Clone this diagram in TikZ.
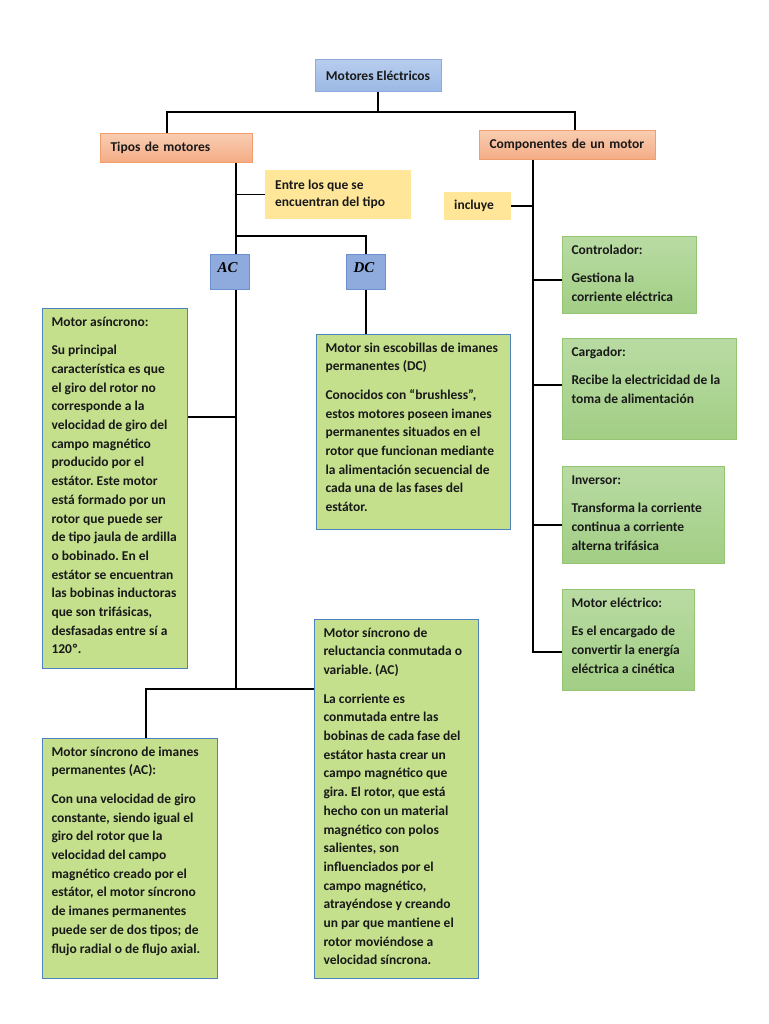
\documentclass[tikz,border=0pt]{standalone}
\usepackage{fontspec}
\setmainfont{Carlito}
\newfontfamily\romana{Liberation Serif}
\usepackage{xcolor}
\frenchspacing

\definecolor{azulA}{HTML}{B7CDEE}
\definecolor{azulB}{HTML}{9BB8E4}
\definecolor{azulborde}{HTML}{8FAADC}
\definecolor{salmonA}{HTML}{F9CDB2}
\definecolor{salmonB}{HTML}{F4AC85}
\definecolor{salmonborde}{HTML}{F19D6C}
\definecolor{amarillo}{HTML}{FFE699}
\definecolor{azulac}{HTML}{8FAADC}
\definecolor{azulacborde}{HTML}{6C8FD0}
\definecolor{lima}{HTML}{C5E08D}
\definecolor{limaborde}{HTML}{4F81BD}
\definecolor{verdeA}{HTML}{B9DBA3}
\definecolor{verdeB}{HTML}{A2CE85}
\definecolor{verdeborde}{HTML}{93C572}

\newcommand{\caja}[3]{\parbox[t][#2pt][t]{#1pt}{\raggedright\strut#3}}

\tikzset{
  texto/.style={font=\fontsize{13.5}{18.7}\selectfont\bfseries, text=black!90},
  titulo/.style={texto, rectangle, draw=azulborde, line width=1pt, top color=azulA, bottom color=azulB, minimum width=126, minimum height=32},
  rama/.style={texto, rectangle, draw=salmonborde, line width=1pt, top color=salmonA, bottom color=salmonB, anchor=north west, align=left, minimum height=29, inner xsep=10},
  nota/.style={texto, rectangle, fill=amarillo, anchor=north west, inner xsep=10},
  tipo/.style={font=\romana\bfseries\itshape\fontsize{15}{18}\selectfont, rectangle, draw=azulacborde, line width=1pt, fill=azulac, anchor=north west, inner xsep=7, inner ysep=5.5},
  hoja/.style={texto, rectangle, draw=limaborde, line width=1pt, fill=lima, anchor=north west, inner xsep=9, inner ysep=4.5},
  parte/.style={texto, rectangle, draw=verdeborde, line width=1pt, top color=verdeA, bottom color=verdeB, anchor=north west, inner xsep=9, inner ysep=4.5},
  conector/.style={line width=1.6pt, black}
}

\begin{document}
\begin{tikzpicture}[x=1pt, y=-1pt]
\useasboundingbox (0,0) rectangle (768,1024);

\node[titulo] (mot) at (378,76) {Motores Eléctricos};
\node[rama, text width=132] (tipos) at (100,133) {Tipos de motores};
\node[rama, text width=156] (comp) at (479,130) {Componentes de un motor};
\node[nota, font=\fontsize{13.5}{16.7}\selectfont\bfseries, inner ysep=7.8] (entre) at (265,170) {\caja{126}{33.4}{Entre los que se\\encuentran del tipo}};
\node[nota, text width=47, minimum height=28, align=left] (incluye) at (444,192) {incluye};
\node[tipo] (ac) at (210,254) {\caja{25}{24}{AC}};
\node[tipo] (dc) at (346,254) {\caja{25}{24}{DC}};

\node[hoja] (asin) at (42,308) {\caja{127}{351}{Motor asíncrono:\\[10pt]Su principal\\característica es que\\el giro del rotor no\\corresponde a la\\velocidad de giro del\\campo magnético\\producido por el\\estátor. Este motor\\está formado por un\\rotor que puede ser\\de tipo jaula de ardilla\\o bobinado. En el\\estátor se encuentran\\las bobinas inductoras\\que son trifásicas,\\desfasadas entre sí a\\120º.}};
\node[hoja] (dcbox) at (316,334) {\caja{176}{186}{Motor sin escobillas de imanes\\permanentes (DC)\\[10pt]Conocidos con “brushless”,\\estos motores poseen imanes\\permanentes situados en el\\rotor que funcionan mediante\\la alimentación secuencial de\\cada una de las fases del\\estátor.}};
\node[hoja] (reluc) at (314,619) {\caja{146}{350}{Motor síncrono de\\reluctancia conmutada o\\variable. (AC)\\[10pt]La corriente es\\conmutada entre las\\bobinas de cada fase del\\estátor hasta crear un\\campo magnético que\\gira. El rotor, que está\\hecho con un material\\magnético con polos\\salientes, son\\influenciados por el\\campo magnético,\\atrayéndose y creando\\un par que mantiene el\\rotor moviéndose a\\velocidad síncrona.}};
\node[hoja] (imanes) at (42,738) {\caja{157}{231}{Motor síncrono de imanes\\permanentes (AC):\\[10pt]Con una velocidad de giro\\constante, siendo igual el\\giro del rotor que la\\velocidad del campo\\magnético creado por el\\estátor, el motor síncrono\\de imanes permanentes\\puede ser de dos tipos; de\\flujo radial o de flujo axial.}};

\node[parte] (contr) at (562,236) {\caja{116}{68}{Controlador:\\[10pt]Gestiona la\\corriente eléctrica}};
\node[parte] (carg) at (562,338) {\caja{156}{92}{Cargador:\\[10pt]Recibe la electricidad de la\\toma de alimentación}};
\node[parte] (inv) at (562,466) {\caja{144}{88}{Inversor:\\[10pt]Transforma la corriente\\continua a corriente\\alterna trifásica}};
\node[parte] (motel) at (562,589) {\caja{114}{92}{Motor eléctrico:\\[10pt]Es el encargado de\\convertir la energía\\eléctrica a cinética}};

\coordinate (raiz) at (378,112);
\coordinate (izq) at (167,112);
\coordinate (der) at (575,112);
\coordinate (eje) at (236,236);
\coordinate (ejedc) at (366,236);
\coordinate (ejeas) at (236,417);
\coordinate (ejefin) at (236,689);
\coordinate (ejeim) at (146,689);
\coordinate (ejec) at (533,652);
\coordinate (c1) at (533,280);
\coordinate (c2) at (533,385);
\coordinate (c3) at (533,525);

\draw[conector] (mot.south) -- (raiz);
\draw[conector] (tipos.north -| izq) -- (izq) -- (der) -- (comp.north -| der);
\draw[conector] (tipos.south -| eje) -- (ac.north -| eje);
\draw[conector] (entre.west) -- (entre.west -| eje);
\draw[conector] (eje) -- (ejedc) -- (dc.north -| ejedc);
\draw[conector] (dc.south -| ejedc) -- (dcbox.north -| ejedc);
\draw[conector] (ac.south -| eje) -- (ejefin) -- (ejefin -| reluc.west);
\draw[conector] (ejeas) -- (ejeas -| asin.east);
\draw[conector] (imanes.north -| ejeim) -- (ejeim) -- (ejefin);
\draw[conector] (comp.south -| ejec) -- (ejec) -- (ejec -| motel.west);
\draw[conector] (incluye.east) -- (incluye.east -| ejec);
\draw[conector] (c1) -- (c1 -| contr.west);
\draw[conector] (c2) -- (c2 -| carg.west);
\draw[conector] (c3) -- (c3 -| inv.west);
\end{tikzpicture}
\end{document}
